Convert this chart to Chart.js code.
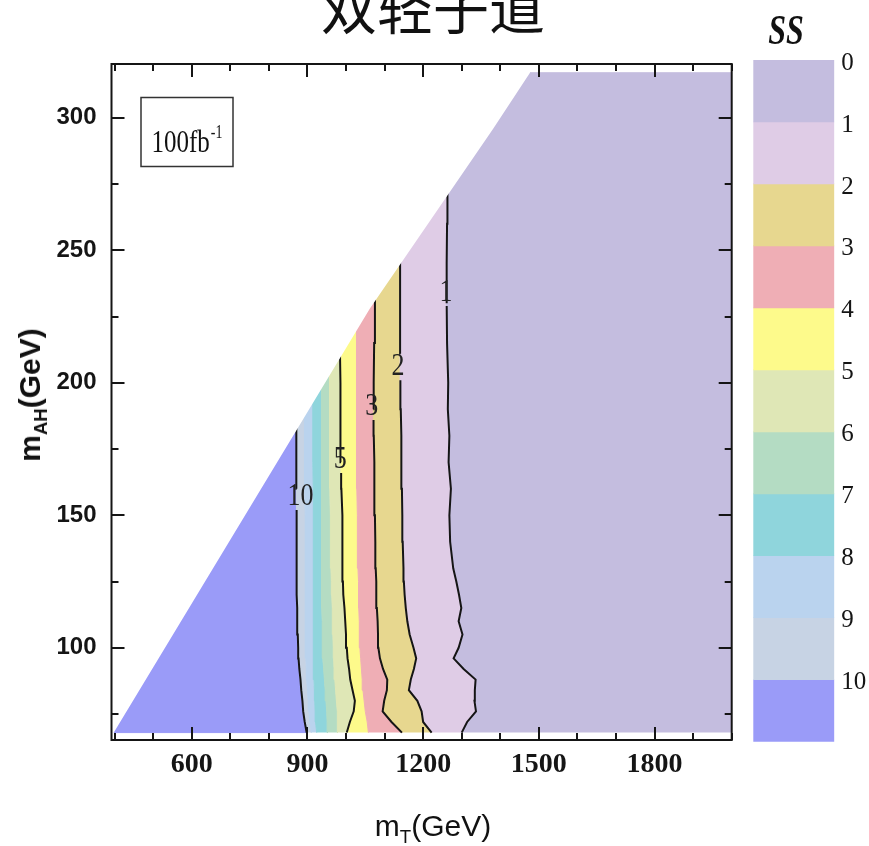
<!DOCTYPE html>
<html lang="zh">
<head>
<meta charset="utf-8">
<title>SS contour</title>
<script src="https://cdn.jsdelivr.net/npm/chart.js@4.4.1/dist/chart.umd.min.js"></script>
<style>
html,body{margin:0;padding:0;background:#fff;}
#wrap{position:relative;width:869px;height:846px;overflow:hidden;background:#fff;}
canvas{position:absolute;}
#main{left:0;top:0;}
#bar{left:740px;top:0;}
.t{position:absolute;white-space:nowrap;line-height:1;color:#111;transform:translate(-50%,-50%);}
.t sub{font-size:62%;vertical-align:baseline;position:relative;top:0.38em;}
#title{left:433px;top:4px;font:56px "Noto Sans CJK SC",sans-serif;}
#ss{left:786px;top:30px;font:italic bold 32px "Liberation Serif",serif;transform:translate(-50%,-50%) scaleY(1.3);}
#xt{left:433px;top:826px;font:30px "Liberation Sans",Arial,sans-serif;}
#yt{left:30px;top:395px;font:bold 30px "Liberation Sans",Arial,sans-serif;transform:translate(-50%,-50%) rotate(-90deg);}
</style>
</head>
<body>
<div id="wrap">
<canvas id="main" width="869" height="846"></canvas>
<canvas id="bar" width="129" height="846"></canvas>
<div class="t" id="title">双轻子道</div>
<div class="t" id="ss">SS</div>
<div class="t" id="xt">m<sub>T</sub>(GeV)</div>
<div class="t" id="yt">m<sub>AH</sub>(GeV)</div>
</div>
<script>
// ---- data ----
// m_AH grid levels (GeV) at which each contour's m_T position was read
const mAH = [68, 72, 76, 80, 84, 88, 92, 96, 100, 105, 110, 115, 120, 125, 130, 140, 150, 160, 170, 180, 190, 200, 215, 230, 245, 260, 275, 290];
// m_T (GeV) of each SS contour along the grid above (ends past the kinematic edge)
const contour1  = [1300, 1314, 1337, 1333, 1334, 1336, 1305, 1279, 1292, 1302, 1292, 1299, 1293, 1286, 1278, 1270, 1268, 1272, 1266, 1268, 1264, 1265, 1262, 1261, 1261, 1262, 1263, 1263];
const contour2  = [1222, 1200, 1196, 1185, 1163, 1168, 1176, 1182, 1175, 1165, 1159, 1155, 1152, 1150, 1149, 1147, 1146, 1145, 1144, 1143, 1142, 1141, 1141, 1140, 1140, 1140];
const contour3  = [1145, 1118, 1095, 1099, 1106, 1107, 1096, 1088, 1084, 1083, 1082, 1080, 1079, 1078, 1077, 1076, 1075, 1074, 1073, 1072, 1071, 1072, 1073, 1075, 1076];
const contour4  = [1058, 1055, 1050, 1047, 1044, 1042, 1040, 1038, 1036, 1035, 1034, 1033, 1033, 1032, 1031, 1030, 1029, 1028, 1028, 1027, 1027, 1027, 1027, 1027];
const contour5  = [1002, 1010, 1020, 1023, 1017, 1011, 1008, 1004, 1002, 1000, 998, 996, 993, 992, 991, 991, 990, 988, 987, 986, 985, 985, 984];
const contour6  = [978, 978, 977, 975, 973, 971, 969, 968, 967, 966, 965, 964, 963, 962, 961, 960, 959, 958, 958, 957, 957, 957, 957];
const contour7  = [952, 951, 950, 948, 946, 944, 942, 940, 939, 938, 938, 937, 937, 937, 937, 937, 937, 937, 936, 936, 936, 936, 936];
const contour8  = [924, 921, 920, 919, 918, 917, 916, 916, 915, 915, 915, 915, 915, 915, 915, 915, 915, 915, 914, 914, 914, 914];
const contour9  = [910, 906, 904, 902, 900, 898, 897, 896, 895, 895, 894, 894, 894, 894, 894, 894, 894, 893, 893, 892, 892, 892];
const contour10 = [898, 893, 889, 887, 884, 882, 879, 877, 876, 875, 874, 873, 872, 872, 872, 872, 872, 872, 871, 871, 871];
// kinematic edge of the scanned region (white above it)
const boundaryMT  = [398, 863, 1062, 1382, 1477];
const boundaryMAH = [68, 180, 228, 296, 317];
// SS bands (colour bar, top to bottom)
const ssBands = ['0-1', '1-2', '2-3', '3-4', '4-5', '5-6', '6-7', '7-8', '8-9', '9-10', '>10'];
const bandColors = ['#c4bddf', '#dfcce6', '#e7d78f', '#efaeb5', '#fdfa8b', '#dfe7b6', '#b4dcc3', '#8fd5dc', '#bad3ee', '#c7d3e4', '#9a9bf8'];
const ssTicks = [0, 1, 2, 3, 4, 5, 6, 7, 8, 9, 10];
// contours drawn as black lines, with their label positions
const drawnLevels = [1, 2, 3, 5, 10];
const contourLabelMT  = [1259, 1135, 1067, 985, 882];
const contourLabelMAH = [234, 206, 191, 171, 157];
// axes
const xTickLabels = [600, 900, 1200, 1500, 1800];
const yTickLabels = [100, 150, 200, 250, 300];
const xMinorTicks = [400, 500, 600, 700, 800, 900, 1000, 1100, 1200, 1300, 1400, 1500, 1600, 1700, 1800, 1900, 2000];
const yMinorTicks = [75, 100, 125, 150, 175, 200, 225, 250, 275, 300];
const xRange = [392, 2000];
const yRange = [65.2, 320.3];
const lumiText = '100fb';
const lumiSup = '-1';

// ---- build polygons from the contour arrays ----
const C = [null, contour1, contour2, contour3, contour4, contour5, contour6, contour7, contour8, contour9, contour10];
const toPts = arr => arr.map((x, i) => ({x: x, y: mAH[i]}));
const topY = arr => mAH[arr.length - 1];
const yEdgeTop = boundaryMAH[boundaryMAH.length - 1];

const polys = [];
polys.push([...toPts(C[1]), {x: C[1][C[1].length - 1], y: yEdgeTop}, {x: xRange[1], y: yEdgeTop}, {x: xRange[1], y: mAH[0]}]);
for (let k = 1; k <= 9; k++) {
  polys.push([...toPts(C[k + 1]), ...toPts(C[k]).reverse()]);
}
polys.push([{x: boundaryMT[0], y: mAH[0]}, ...toPts(C[10]), {x: boundaryMT[0], y: topY(C[10])}]);

const mask = boundaryMT.map((x, i) => ({x: x, y: boundaryMAH[i]}));
mask.push({x: boundaryMT[boundaryMT.length - 1], y: 340}, {x: 300, y: 340}, {x: 300, y: mAH[0]});

function contourLine(level, ly) {
  const pts = toPts(C[level]);
  const lo = ly - 5, hi = ly + 5;
  const out = [];
  for (let i = 0; i < pts.length; i++) {
    const p = pts[i];
    if (i > 0) {
      const q = pts[i - 1];
      for (const cut of [lo, hi]) {
        if (q.y < cut && p.y >= cut) {
          const t = (cut - q.y) / (p.y - q.y);
          out.push({x: q.x + t * (p.x - q.x), y: cut, gap: cut === lo});
        }
      }
    }
    out.push({x: p.x, y: p.y, gap: false});
  }
  return out;
}

const datasets = [];
polys.forEach((poly, i) => {
  datasets.push({type: 'line', label: ssBands[i], data: poly, fill: 'shape', backgroundColor: bandColors[i],
    borderColor: bandColors[i], borderWidth: 1, pointRadius: 0, tension: 0, order: 3});
});
drawnLevels.forEach((lev, j) => {
  const pts = contourLine(lev, contourLabelMAH[j]);
  datasets.push({type: 'line', label: 'SS=' + lev, data: pts, fill: false, borderColor: '#151515', borderWidth: 2,
    pointRadius: 0, tension: 0, order: 2,
    segment: {borderColor: c => (pts[c.p0DataIndex] && pts[c.p0DataIndex].gap) ? 'rgba(0,0,0,0)' : '#151515'}});
});
datasets.push({type: 'line', label: 'edge', data: mask, fill: 'shape', backgroundColor: '#ffffff', borderWidth: 0, pointRadius: 0, order: 1});

const framePlugin = {
  id: 'frame',
  afterDatasetsDraw(chart) {
    const {ctx, chartArea: a, scales: {x, y}} = chart;
    ctx.save();
    ctx.strokeStyle = '#151515';
    ctx.lineWidth = 2;
    ctx.beginPath();
    xMinorTicks.forEach(v => {
      const px = Math.round(x.getPixelForValue(v));
      const L = xTickLabels.includes(v) ? 13 : 7;
      ctx.moveTo(px, a.bottom); ctx.lineTo(px, a.bottom - L);
      ctx.moveTo(px, a.top); ctx.lineTo(px, a.top + L);
    });
    yMinorTicks.forEach(v => {
      const py = Math.round(y.getPixelForValue(v));
      const L = yTickLabels.includes(v) ? 13 : 7;
      ctx.moveTo(a.left, py); ctx.lineTo(a.left + L, py);
      ctx.moveTo(a.right, py); ctx.lineTo(a.right - L, py);
    });
    ctx.stroke();
    ctx.strokeRect(a.left, a.top, a.right - a.left, a.bottom - a.top);
    // contour labels
    ctx.fillStyle = '#222';
    ctx.font = '26px "Liberation Serif", serif';
    ctx.textAlign = 'center';
    ctx.textBaseline = 'middle';
    drawnLevels.forEach((lev, j) => {
      const px = x.getPixelForValue(contourLabelMT[j]);
      const py = y.getPixelForValue(contourLabelMAH[j]);
      ctx.save();
      ctx.translate(px, py);
      ctx.scale(1, 1.25);
      ctx.fillText(String(lev), 0, 0);
      ctx.restore();
    });
    // luminosity box
    ctx.lineWidth = 1.5;
    ctx.strokeStyle = '#333';
    ctx.strokeRect(a.left + 29.5, a.top + 33.5, 92, 69);
    ctx.fillStyle = '#111';
    ctx.textAlign = 'left';
    ctx.textBaseline = 'alphabetic';
    ctx.save();
    ctx.translate(a.left + 40, a.top + 88);
    ctx.scale(1, 1.3);
    ctx.font = '25px "Liberation Serif", serif';
    ctx.fillText(lumiText, 0, 0);
    const w = ctx.measureText(lumiText).width;
    ctx.font = '14px "Liberation Serif", serif';
    ctx.fillText(lumiSup, w + 1, -11);
    ctx.restore();
    ctx.restore();
  }
};

new Chart(document.getElementById('main'), {
  type: 'line',
  data: {datasets: datasets},
  options: {
    responsive: false,
    animation: false,
    events: [],
    layout: {padding: {left: 0, top: 64, right: 137.3, bottom: 0}},
    plugins: {legend: {display: false}, tooltip: {enabled: false}},
    scales: {
      x: {
        type: 'linear', min: xRange[0], max: xRange[1],
        grid: {display: false, drawTicks: false}, border: {display: false},
        ticks: {font: {family: 'Liberation Serif', weight: 'bold', size: 28}, color: '#151515', padding: 8,
          maxRotation: 0, autoSkip: false, callback: v => String(v)},
        afterBuildTicks: s => { s.ticks = xTickLabels.map(v => ({value: v})); },
        afterFit: s => { s.height = 106; }
      },
      y: {
        type: 'linear', min: yRange[0], max: yRange[1],
        grid: {display: false, drawTicks: false}, border: {display: false},
        ticks: {font: {family: 'Liberation Sans', weight: 'bold', size: 24}, color: '#151515', padding: 15,
          autoSkip: false, callback: v => String(v)},
        afterBuildTicks: s => { s.ticks = yTickLabels.map(v => ({value: v})); },
        afterFit: s => { s.width = 111.5; }
      }
    }
  },
  plugins: [framePlugin]
});

// ---- colour bar ----
new Chart(document.getElementById('bar'), {
  type: 'bar',
  data: {
    labels: ['SS'],
    datasets: ssBands.map((b, i) => ({label: b, data: [1], backgroundColor: bandColors[i], borderWidth: 0,
      barPercentage: 1, categoryPercentage: 1}))
  },
  options: {
    responsive: false,
    animation: false,
    events: [],
    layout: {padding: {left: 13.3, top: 60, right: 0, bottom: 846 - 741.7}},
    plugins: {legend: {display: false}, tooltip: {enabled: false}},
    scales: {
      x: {stacked: true, display: false},
      y: {
        stacked: true, min: 0, max: ssBands.length, reverse: true, position: 'right',
        grid: {display: false, drawTicks: false}, border: {display: false},
        ticks: {font: {family: 'Liberation Serif', size: 25}, color: '#151515', padding: 7, labelOffset: 3,
          autoSkip: false, callback: v => String(v)},
        afterBuildTicks: s => { s.ticks = ssTicks.map(v => ({value: v})); },
        afterFit: s => { s.width = 129 - 94.3; }
      }
    }
  }
});
</script>
</body>
</html>
